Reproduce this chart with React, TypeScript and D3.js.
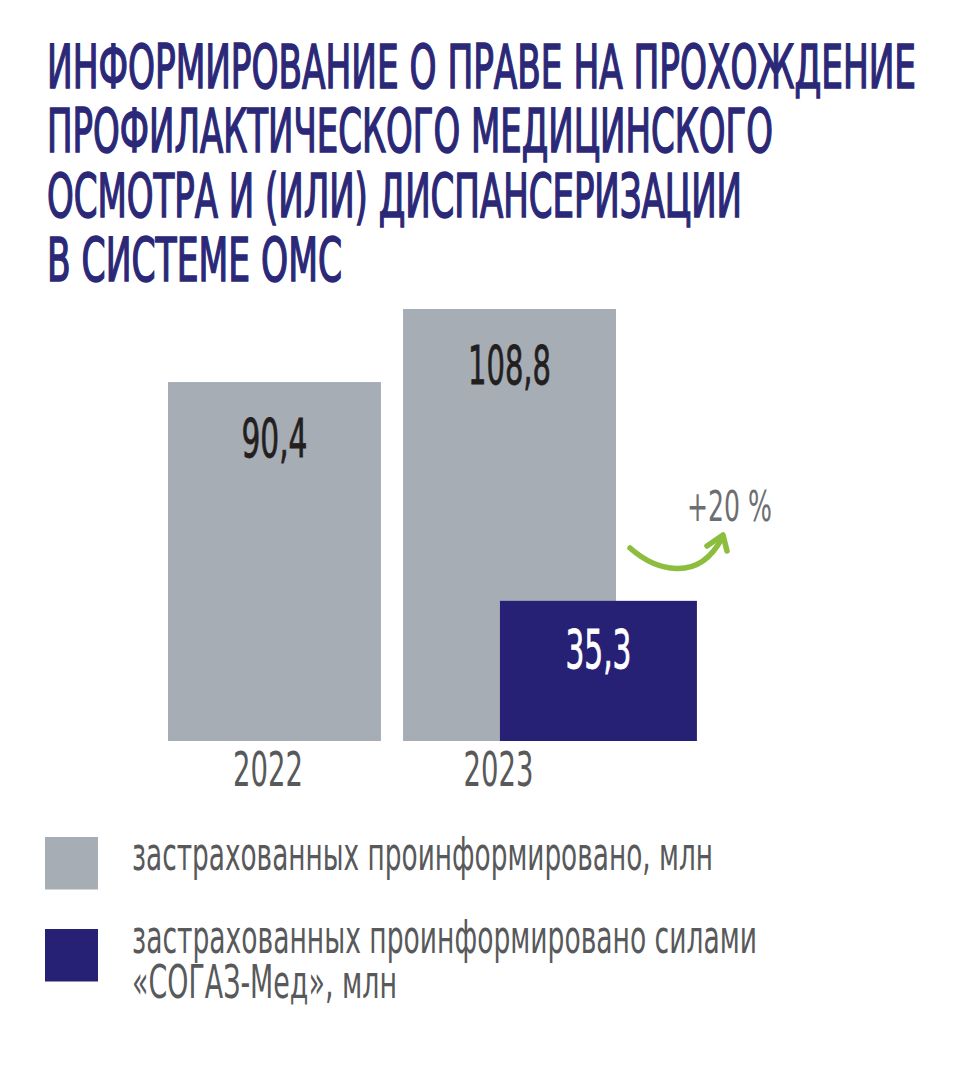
import React from "react";
import * as d3 from "d3";

const titleLines = [
  "ИНФОРМИРОВАНИЕ О ПРАВЕ НА ПРОХОЖДЕНИЕ",
  "ПРОФИЛАКТИЧЕСКОГО МЕДИЦИНСКОГО",
  "ОСМОТРА И (ИЛИ) ДИСПАНСЕРИЗАЦИИ",
  "В СИСТЕМЕ ОМС",
];
const titleWidths = [869, 726, 695, 295];

const years = ["2022", "2023"];
const totalInformed = [90.4, 108.8];
const sogazYear = "2023";
const sogazInformed = 35.3;
const growthLabel = "+20 %";

const legendItems = [
  { color: "#a7adb4", lines: ["застрахованных проинформировано, млн"], widths: [581] },
  {
    color: "#262175",
    lines: ["застрахованных проинформировано силами", "«СОГАЗ-Мед», млн"],
    widths: [625, 265],
  },
];

const GRAY = "#a7adb4";
const NAVY = "#262175";
const TITLE = "#2b2878";
const FONT = "'Liberation Sans Narrow', 'DejaVu Sans Condensed', 'Roboto', sans-serif";

const fmt = (v: number) => v.toFixed(1).replace(".", ",");

export default function App() {
  const W = 956;
  const H = 1088;
  const x = d3.scaleBand<string>().domain(years).range([168, 616]).paddingInner(0.094).paddingOuter(0);
  const y = d3.scaleLinear().domain([0, 108.8]).range([741, 309]);
  const bw = x.bandwidth();
  const sx = (x(sogazYear) as number) + bw * 0.455;
  const sw = bw * 0.925;

  const arrowPath = d3.path();
  arrowPath.moveTo(630, 548);
  arrowPath.bezierCurveTo(655, 570, 698, 584, 722, 538);
  const headPath = d3.path();
  headPath.moveTo(707, 546);
  headPath.lineTo(723, 535);
  headPath.lineTo(727, 551);

  return (
    <svg
      width={W}
      height={H}
      style={{ position: "absolute", left: 0, top: 0, background: "#fff" }}
      fontFamily={FONT}
    >
      <rect width={W} height={H} fill="#fff" />
      {titleLines.map((t, i) => (
        <text
          key={i}
          x={47}
          y={88 + i * 64.3}
          fontSize={60}
          fill={TITLE}
          stroke={TITLE}
          strokeWidth={1.6}
          textLength={titleWidths[i]}
          lengthAdjust="spacingAndGlyphs"
        >
          {t}
        </text>
      ))}

      {years.map((yr, i) => (
        <rect
          key={yr}
          x={x(yr)}
          y={y(totalInformed[i])}
          width={bw}
          height={y(0) - y(totalInformed[i])}
          fill={GRAY}
        />
      ))}
      <rect x={sx} y={y(sogazInformed)} width={sw} height={y(0) - y(sogazInformed)} fill={NAVY} />

      {years.map((yr, i) => (
        <text
          key={"v" + yr}
          x={(x(yr) as number) + bw / 2}
          y={y(totalInformed[i]) + 75}
          fontSize={54}
          textAnchor="middle"
          fill="#231f20"
          stroke="#231f20"
          strokeWidth={0.8}
          textLength={i === 0 ? 66 : 83}
          lengthAdjust="spacingAndGlyphs"
        >
          {fmt(totalInformed[i])}
        </text>
      ))}
      <text
        x={sx + sw / 2}
        y={y(sogazInformed) + 67}
        fontSize={54}
        textAnchor="middle"
        fill="#fff"
        stroke="#fff"
        strokeWidth={0.8}
        textLength={66}
        lengthAdjust="spacingAndGlyphs"
      >
        {fmt(sogazInformed)}
      </text>

      {years.map((yr) => (
        <text
          key={"l" + yr}
          x={(x(yr) as number) + bw / 2 - (yr === "2022" ? 6.5 : 11)}
          y={786}
          fontSize={48}
          textAnchor="middle"
          fill="#58595b"
          textLength={70}
          lengthAdjust="spacingAndGlyphs"
        >
          {yr}
        </text>
      ))}

      <text
        x={687}
        y={521}
        fontSize={43}
        fill="#6d6e71"
        textLength={85}
        lengthAdjust="spacingAndGlyphs"
      >
        {growthLabel}
      </text>
      <path d={arrowPath.toString()} fill="none" stroke="#8cbd3f" strokeWidth={5.5} strokeLinecap="round" />
      <path
        d={headPath.toString()}
        fill="none"
        stroke="#8cbd3f"
        strokeWidth={5.5}
        strokeLinecap="round"
        strokeLinejoin="round"
      />

      {legendItems.map((it, i) => (
        <g key={i}>
          <rect x={45} y={837 + i * 92} width={53} height={52.5} fill={it.color} />
          {it.lines.map((ln, j) => (
            <text
              key={j}
              x={132}
              y={870 + i * 83 + j * 45}
              fontSize={46}
              fill="#58595b"
              textLength={it.widths[j]}
              lengthAdjust="spacingAndGlyphs"
            >
              {ln}
            </text>
          ))}
        </g>
      ))}
    </svg>
  );
}
